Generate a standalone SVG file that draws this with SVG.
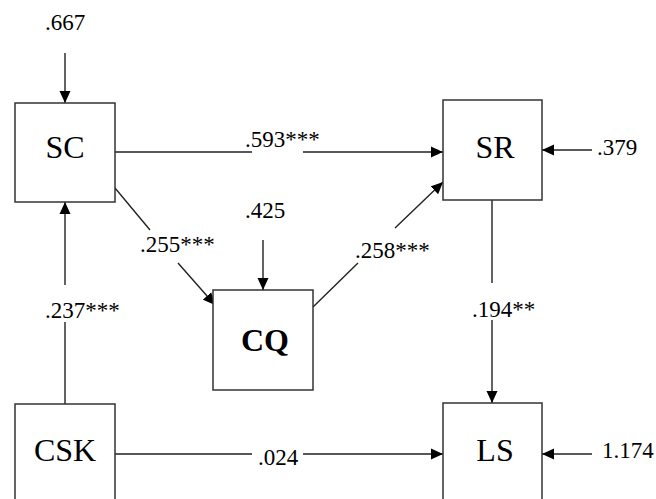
<svg xmlns="http://www.w3.org/2000/svg" width="656" height="499" viewBox="0 0 656 499">
<style>
.box{fill:#fff;stroke:#333;stroke-width:1.5}
.ln{fill:none;stroke:#222;stroke-width:1.4}
.nt{font-family:"Liberation Serif","Times New Roman",serif;font-size:32px;fill:#000;text-anchor:middle}
.lb{font-family:"Liberation Serif","Times New Roman",serif;font-size:23px;fill:#000}
</style>
<defs>
<marker id="ah" markerUnits="userSpaceOnUse" markerWidth="12" markerHeight="12" viewBox="0 0 12 12" refX="12" refY="6" orient="auto">
<path d="M0,0.5 L12,6 L0,11.5 Z" fill="#000"/>
</marker>
</defs>
<g id="connectors">
<line class="ln" x1="65" y1="53" x2="65" y2="103" marker-end="url(#ah)"/>
<path class="ln" d="M115,152 L252,152 M303,152 L443,152" marker-end="url(#ah)"/>
<line class="ln" x1="592" y1="150" x2="542" y2="150" marker-end="url(#ah)"/>
<path class="ln" d="M115,188 L150,230 M178,263 L215,305" marker-end="url(#ah)"/>
<line class="ln" x1="263" y1="240" x2="263" y2="290" marker-end="url(#ah)"/>
<path class="ln" d="M313,307 L358,263 M395,228 L443,182" marker-end="url(#ah)"/>
<path class="ln" d="M65,404 L65,322 M65,285 L65,202" marker-end="url(#ah)"/>
<path class="ln" d="M492,200 L492,283 M492,320 L492,403" marker-end="url(#ah)"/>
<path class="ln" d="M115,454 L252,454 M303,454 L443,454" marker-end="url(#ah)"/>
<line class="ln" x1="592" y1="454" x2="542" y2="454" marker-end="url(#ah)"/>
<text class="lb" x="45" y="30">.667</text>
<text class="lb" x="245" y="147">.593***</text>
<text class="lb" x="597" y="155">.379</text>
<text class="lb" x="140" y="252">.255***</text>
<text class="lb" x="245" y="218">.425</text>
<text class="lb" x="355" y="258">.258***</text>
<text class="lb" x="45" y="318">.237***</text>
<text class="lb" x="472" y="317">.194**</text>
<text class="lb" x="258" y="465">.024</text>
<text class="lb" x="602" y="458">1.174</text>
</g>
<g id="node-SC"><rect class="box" x="15" y="103" width="100" height="99"/><text class="nt" x="65" y="158">SC</text></g>
<g id="node-SR"><rect class="box" x="443" y="100" width="99" height="100"/><text class="nt" x="495" y="158">SR</text></g>
<g id="node-CQ"><rect class="box" x="213" y="290" width="100" height="100"/><text class="nt" x="265" y="351" font-weight="bold">CQ</text></g>
<g id="node-CSK"><rect class="box" x="15" y="404" width="100" height="110"/><text class="nt" x="65" y="461">CSK</text></g>
<g id="node-LS"><rect class="box" x="443" y="403" width="99" height="110"/><text class="nt" x="495" y="461">LS</text></g>
</svg>
